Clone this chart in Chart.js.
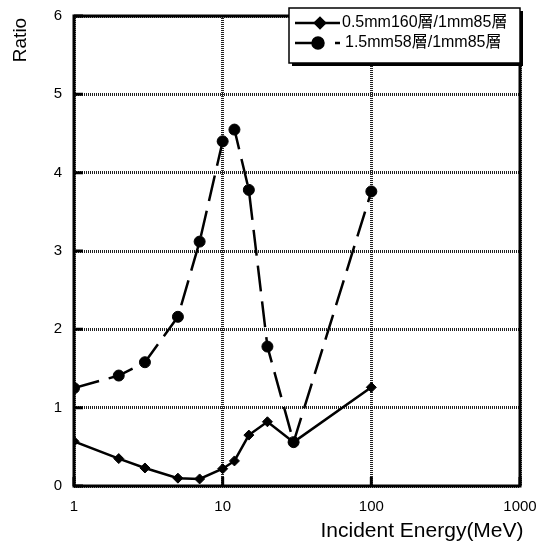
<!DOCTYPE html>
<html>
<head>
<meta charset="utf-8">
<script src="https://cdn.jsdelivr.net/npm/chart.js@4/dist/chart.umd.min.js"></script>
<style>
  html, body { margin: 0; padding: 0; background: #fff; }
  #wrap { width: 539px; height: 553px; }
</style>
</head>
<body>
<div id="wrap"><canvas id="c" width="539" height="553"></canvas></div>
<script>
// --- datos ----------------------------------------------------------------
const energia = [1, 2, 3, 5, 7, 10, 12, 15, 20, 30, 100];
const ratio05mm = [0.57, 0.35, 0.23, 0.10, 0.09, 0.22, 0.32, 0.65, 0.82, 0.56, 1.26];
const ratio15mm = [1.25, 1.41, 1.58, 2.16, 3.12, 4.40, 4.55, 3.78, 1.78, 0.56, 3.76];
const etiquetas = ['0.5mm160層/1mm85層', '1.5mm58層/1mm85層'];
const ticksX = [1, 10, 100, 1000];
const tituloX = 'Incident Energy(MeV)';
const tituloY = 'Ratio';

const FUENTE = "'Liberation Sans', Arial, 'Noto Sans CJK JP', sans-serif";

const puntos = (xs, ys) => xs.map((x, i) => ({ x, y: ys[i] }));

// marco, marcas interiores, títulos y leyenda
const decoracion = {
  id: 'decoracion',
  beforeDatasetsDraw(chart) {
    const { ctx, chartArea: a, scales } = chart;
    ctx.save();
    ctx.strokeStyle = '#000';
    ctx.lineWidth = 3;
    ctx.strokeRect(a.left, a.top, a.right - a.left, a.bottom - a.top);
    // marcas hacia dentro
    ctx.beginPath();
    scales.y.ticks.forEach((t) => {
      const y = scales.y.getPixelForValue(t.value);
      ctx.moveTo(a.left, y);
      ctx.lineTo(a.left + 9, y);
    });
    scales.x.ticks.forEach((t) => {
      const x = scales.x.getPixelForValue(t.value);
      ctx.moveTo(x, a.bottom);
      ctx.lineTo(x, a.bottom - 9);
    });
    ctx.stroke();
    ctx.restore();
  },
  afterDraw(chart) {
    const { ctx } = chart;
    ctx.save();
    ctx.fillStyle = '#000';
    ctx.font = '21px ' + FUENTE;
    ctx.textAlign = 'center';
    ctx.textBaseline = 'middle';
    ctx.fillText(tituloX, 422, 531);
    ctx.font = '19px ' + FUENTE;
    ctx.translate(21, 40);
    ctx.rotate(-Math.PI / 2);
    ctx.fillText(tituloY, 0, 0);
    ctx.restore();

    // leyenda
    const bx = 289, by = 8, bw = 231, bh = 55;
    ctx.save();
    ctx.fillStyle = '#000';
    ctx.fillRect(bx + 3, by + 3, bw, bh);
    ctx.fillStyle = '#fff';
    ctx.fillRect(bx, by, bw, bh);
    ctx.strokeStyle = '#000';
    ctx.lineWidth = 1.5;
    ctx.strokeRect(bx, by, bw, bh);

    const ds = chart.data.datasets;
    const filas = [23, 43];
    ctx.fillStyle = '#000';
    ctx.lineWidth = 2.5;
    // serie 1: línea continua con rombo
    ctx.beginPath();
    ctx.moveTo(295, filas[0]);
    ctx.lineTo(340, filas[0]);
    ctx.stroke();
    Chart.helpers.drawPoint(ctx, { pointStyle: ds[0].pointStyle, radius: ds[0].pointRadius, borderWidth: 1 }, 320, filas[0]);
    // serie 2: línea discontinua con círculo
    ctx.beginPath();
    ctx.moveTo(295, filas[1]);
    ctx.lineTo(318, filas[1]);
    ctx.moveTo(335, filas[1]);
    ctx.lineTo(340, filas[1]);
    ctx.stroke();
    Chart.helpers.drawPoint(ctx, { pointStyle: ds[1].pointStyle, radius: ds[1].pointRadius, borderWidth: 1 }, 318, filas[1]);

    ctx.font = '16px ' + FUENTE;
    ctx.textAlign = 'left';
    ctx.textBaseline = 'middle';
    ctx.fillText(etiquetas[0], 342, filas[0]);
    ctx.fillText(etiquetas[1], 345, filas[1]);
    ctx.restore();
  },
};

new Chart(document.querySelector('#c'), {
  type: 'scatter',
  data: {
    datasets: [
      {
        label: etiquetas[0],
        data: puntos(energia, ratio05mm),
        showLine: true,
        borderColor: '#000',
        backgroundColor: '#000',
        borderWidth: 2.5,
        pointStyle: 'rectRot',
        pointRadius: 5,
        pointBorderWidth: 1,
      },
      {
        label: etiquetas[1],
        data: puntos(energia, ratio15mm),
        showLine: true,
        borderColor: '#000',
        backgroundColor: '#000',
        borderWidth: 2.5,
        borderDash: [26, 10],
        pointStyle: 'circle',
        pointRadius: 5.5,
        pointBorderWidth: 1,
      },
    ],
  },
  options: {
    responsive: false,
    animation: false,
    layout: { padding: { top: 16, right: 19, left: 0, bottom: 0 } },
    plugins: { legend: { display: false }, tooltip: { enabled: false } },
    scales: {
      x: {
        type: 'logarithmic',
        min: 1,
        max: 1000,
        afterBuildTicks: (s) => { s.ticks = ticksX.map((v) => ({ value: v })); },
        afterFit: (s) => { s.height = 67; s.paddingLeft = 0; s.paddingRight = 0; },
        ticks: {
          color: '#000',
          font: { family: FUENTE, size: 15 },
          padding: 12,
          maxRotation: 0,
          autoSkip: false,
          callback: (v) => String(v),
        },
        grid: { color: '#222', lineWidth: 3, drawTicks: false },
        border: { display: false, dash: [1, 1] },
      },
      y: {
        min: 0,
        max: 6,
        afterFit: (s) => { s.width = 74; s.paddingTop = 0; s.paddingBottom = 0; },
        ticks: {
          stepSize: 1,
          color: '#000',
          font: { family: FUENTE, size: 15 },
          padding: 12,
        },
        grid: { color: '#222', lineWidth: 3, drawTicks: false },
        border: { display: false, dash: [1, 1] },
      },
    },
  },
  plugins: [decoracion],
});
</script>
</body>
</html>
